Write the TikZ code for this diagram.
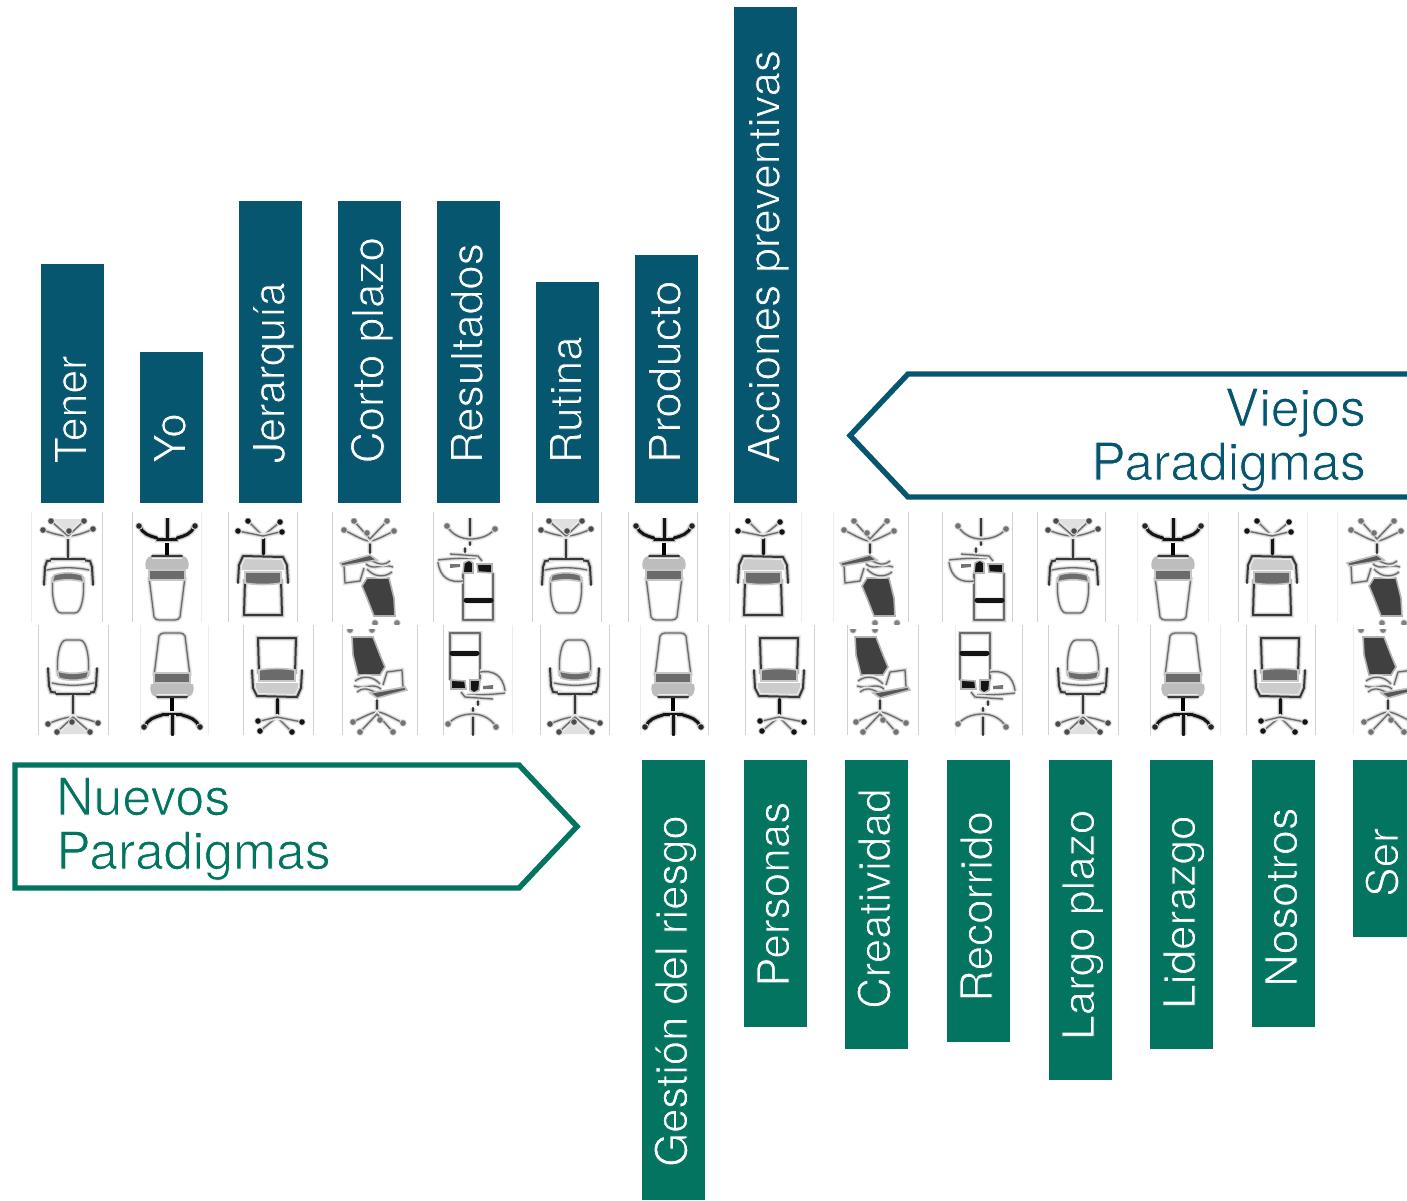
\documentclass[tikz,border=0pt]{standalone}
\usepackage{fontspec}
\setmainfont{TeX Gyre Heros}
\definecolor{blueb}{HTML}{05566E}
\definecolor{greenb}{HTML}{02745F}
% thins the glyphs: outlines them in the colour of what lies behind
\newcommand{\thinned}[2]{\special{pdf:code q 2 Tr 0.85 w #1 RG}#2\special{pdf:code Q}}
\newcommand{\onblue}[1]{\thinned{0.020 0.337 0.431}{#1}}
\newcommand{\ongreen}[1]{\thinned{0.008 0.455 0.373}{#1}}
\newcommand{\onwhite}[1]{\thinned{1 1 1}{#1}}
\tikzset{
  barblue/.style={fill=blueb,inner sep=0pt,minimum width=63pt,anchor=north west},
  bargreen/.style={fill=greenb,inner sep=0pt,minimum width=63pt,anchor=north west},
  bartext/.style={rotate=90,anchor=base west,inner sep=0pt,text=white,font=\fontsize{44.1}{50}\selectfont},
  headtext/.style={inner sep=0pt,font=\fontsize{51.8}{54}\selectfont},
  softt/.style={draw=black!58,line width=1.3pt,line cap=round,line join=round,preaction={draw=black!6,line width=5pt},preaction={draw=black!17,line width=3.2pt}},
  softm/.style={draw=black!78,line width=2pt,line cap=round,line join=round,preaction={draw=black!7,line width=6pt},preaction={draw=black!22,line width=4pt}},
  softk/.style={draw=black!92,line width=3pt,line cap=round,line join=round,preaction={draw=black!8,line width=7pt},preaction={draw=black!25,line width=5pt}},
  band/.style={fill=black!58,draw=black!22,line width=1.6pt},
  edgeline/.style={draw=black!18,line width=1pt},
  edgefaint/.style={draw=black!7,line width=1pt},
}
\newcommand{\wheels}[2]{\foreach \wx/\wy in {#2}{\fill[black!15] (\wx,\wy) circle (3.8);\fill[#1] (\wx,\wy) circle (2.8);}}
\newcommand{\ChairA}{%
  \draw[softt] (-15,676) .. controls (-17,660) and (-14,640) .. (-7,640) -- (7,640) .. controls (14,640) and (17,660) .. (15,676);
  \path[band] (-16,671) .. controls (-5,674) and (5,674) .. (16,671) -- (14,678) .. controls (6,681) and (-6,681) .. (-14,678) -- cycle;
  \draw[softm] (-25,668) -- (-24,686) -- (-22,692) -- (-13,693);
  \draw[softm] (24,668) -- (23,686) -- (21,692) -- (13,693);
  \draw[softt] (-21,683) .. controls (-8,686) and (8,686) .. (21,683);
  \draw[softm] (-17,694) -- (17,694);
  \draw[softm] (0,695) -- (0,717);
  \fill[black!12] (-14,726) -- (0,720) -- (14,726) -- (18,734) -- (-18,734) -- cycle;
  \draw[softt] (-25,724) .. controls (-12,718) and (-4,717) .. (0,717) .. controls (4,717) and (12,718) .. (25,723);
  \draw[softt] (-16,732) -- (0,717) -- (17,732);
  \wheels{black!70}{-25/724,25/723,-16/732,17/732,-1/722}
}
\newcommand{\ChairB}{%
  \draw[softt] (-18,676) -- (-13,636) .. controls (-12,634) and (-10,633) .. (-8,633) -- (8,633) .. controls (10,633) and (12,634) .. (13,636) -- (18,676);
  \path[band] (-18,673) -- (18,673) -- (18,683) -- (-18,683) -- cycle;
  \fill[black!26] (-21,684) .. controls (-23,692) and (-20,696) .. (-16,697) -- (16,697) .. controls (20,696) and (23,692) .. (21,684) -- cycle;
  \draw[softm] (-15,697) -- (15,697);
  \draw[draw=black,line width=4.5pt] (0,698) -- (0,714);
  \draw[softk] (-12,714) -- (12,714);
  \draw[softk] (-27,727) .. controls (-25,719) and (-17,717) .. (-10,715);
  \draw[softk] (27,727) .. controls (25,719) and (17,717) .. (10,715);
  \draw[softk] (0,715) -- (0,735);
  \wheels{black!85}{-28/727,28/727}
}
\newcommand{\ChairC}{%
  \draw[softm] (-18,674) -- (-19,638) -- (19,638) -- (18,674);
  \path[band] (-18,670) .. controls (-8,668) and (8,668) .. (18,670) -- (18,681) -- (-18,681) -- cycle;
  \fill[black!20] (-23,683) .. controls (-23,692) and (-20,697) .. (-16,697) -- (16,697) .. controls (20,697) and (23,692) .. (23,683) -- cycle;
  \draw[softm] (-25,670) -- (-24,688) -- (-20,696) -- (20,697) -- (24,688) -- (25,670);
  \draw[softk] (0,699) -- (0,717);
  \draw[softt] (-17,731) -- (0,717) -- (15,732);
  \draw[softt] (-21,722) -- (0,717) -- (25,722);
  \wheels{black!92}{-19/721,25/722,-17/731,15/732}
}
\newcommand{\ChairD}{%
  \wheels{black!50}{-25/630,-3/630}
  \fill[black!75,draw=black!30,line width=1.6pt] (-23,637) -- (-2,637) -- (5,655) -- (10,667) -- (5,675) -- (-17,675) -- (-22,655) -- cycle;
  \draw[softt] (8,685) -- (12,672) -- (27,670) -- (28,687);
  \draw[softt] (-20,681) .. controls (-12,675) and (-2,676) .. (5,684);
  \draw[softt] (-21,686) .. controls (-10,690) and (-2,682) .. (6,689);
  \draw[softt] (-18,692) .. controls (-8,684) and (-2,694) .. (8,694);
  \fill[black!66,draw=black!25,line width=1.6pt] (-5,693) -- (30,687) -- (32,690) -- (2,698) -- cycle;
  \draw[softm] (2,700) -- (2,712);
  \draw[softt] (-22,722) .. controls (-10,716) and (-2,712) .. (2,712) .. controls (8,712) and (18,718) .. (28,723);
  \draw[softt] (-15,732) -- (2,714) -- (18,732);
  \wheels{black!55}{-22/722,28/723,5/720,-15/732,18/732}
}
\newcommand{\ChairE}{%
  \draw[softt] (-23,680) -- (-23,633) -- (7,633) -- (7,680);
  \draw[softk,line width=5pt] (-21,653) -- (4,653);
  \fill[black!92,draw=black!30,line width=1.6pt] (-22,680) -- (-8,681) -- (-7,689) -- (-22,689) -- cycle;
  \fill[black!92,draw=black!30,line width=1.6pt] (-3,680) -- (7,680) -- (6,690) -- (1,693) -- (-3,690) -- cycle;
  \draw[softt] (7,672) .. controls (20,670) and (30,675) .. (32,691);
  \draw[softt] (-6,695) .. controls (10,695) and (25,694) .. (32,693);
  \draw[softt] (-12,692) -- (-8,697) -- (20,699);
  \fill[black!55] (10,686) -- (20,685) -- (20,689) -- (10,689) -- cycle;
  \draw[softm] (5,701) -- (5,705);
  \draw[softm,line width=2.6pt] (0,708) -- (0,735);
  \draw[softt] (-25,724) .. controls (-18,716) and (-8,714) .. (0,714) .. controls (8,714) and (18,718) .. (23,727);
  \wheels{black!55}{-25/724,23/727}
}
\newcommand{\TopBar}[4]{%
  \node[barblue,minimum height={(502.5-#3)*1pt}] (top#1) at (#2,#3) {};
  \node[bartext] (toplabel#1) at ({#2+45.5},463.5) {\onblue{#4}};
}
\newcommand{\LowBar}[5]{%
  \node[bargreen,minimum height={(#3-760)*1pt}] (low#1) at (#2,760) {};
  \node[bartext] (lowlabel#1) at ({#2+45},#4) {\ongreen{#5}};
}
\begin{document}
\begin{tikzpicture}[x=1pt,y=-1pt]
\useasboundingbox (0,0) rectangle (1407,1200);
% chair strip
\foreach \lx in {102,132,228,297,332,433,532,601,628,697,908,942,1012,1037,1105,1238}
  \draw[edgeline] (\lx,512) -- (\lx,622);
\foreach \lx in {31,201,729,801,833,1137,1208,1307,1337}
  \draw[edgefaint] (\lx,512) -- (\lx,622);
\foreach \lx in {38,108,243,313,342,417,443,540,609,708,745,814,847,918,1022,1048,1118,1150,1246,1315}
  \draw[edgeline] (\lx,625) -- (\lx,735);
\foreach \lx in {140,208,512,640,955,1220,1353}
  \draw[edgefaint] (\lx,625) -- (\lx,735);
\begin{scope}
  \clip (0,518) rectangle (1407,624);
  \foreach \cx/\kind in {68/A,167/B,263/C,372/D,470/E,566/A,664/B,763/C,872/D,981/E,1073/A,1173/B,1272/C,1379/D}{
    \begin{scope}[shift={(\cx,626.5)},rotate=180]
      \begin{scope}[shift={(0,-626.5)}]
        \csname Chair\kind\endcsname
      \end{scope}
    \end{scope}
  }
\end{scope}
\begin{scope}
  \clip (0,629) rectangle (1407,735);
  \foreach \cx/\kind in {73/A,172/B,277/C,375/D,473/E,575/A,673/B,779/C,878/D,983/E,1083/A,1183/B,1280/C,1386/D}{
    \begin{scope}[shift={(\cx,0)}]
      \csname Chair\kind\endcsname
    \end{scope}
  }
\end{scope}
% upper bars
\TopBar{1}{41}{264}{\scalebox{.97}[1]{Tener}}
\TopBar{2}{140}{352}{Yo}
\TopBar{3}{239}{201}{\scalebox{.973}[1]{Jerarquía}}
\TopBar{4}{338}{201}{Corto plazo}
\TopBar{5}{437}{201}{Resultados}
\TopBar{6}{536}{282}{Rutina}
\TopBar{7}{635}{255}{\scalebox{1.04}[1]{Producto}}
\TopBar{8}{734}{7}{Acciones preventivas}
% lower bars
\LowBar{1}{642}{1200}{1167}{\scalebox{.99}[1]{Gestión del riesgo}}
\LowBar{2}{744}{1027}{987}{Personas}
\LowBar{3}{845}{1049}{1009}{\scalebox{.99}[1]{Creatividad}}
\LowBar{4}{947}{1042}{1002}{Recorrido}
\LowBar{5}{1049}{1080}{1040}{Largo plazo}
\LowBar{6}{1150}{1049}{1009}{Liderazgo}
\LowBar{7}{1252}{1027}{987}{\scalebox{1.02}[1]{Nosotros}}
\LowBar{8}{1353}{937}{897}{Ser}
% head arrows
\draw[draw=blueb,line width=5.4pt,miter limit=10] (1412,374) -- (908,374) -- (850,435.5) -- (908,497) -- (1412,497);
\node[headtext,text=blueb,anchor=base east] (oldone) at (1366,426) {\onwhite{Viejos}};
\node[headtext,text=blueb,anchor=base east] (oldtwo) at (1366,480) {\onwhite{Paradigmas}};
\draw[draw=greenb,line width=5.4pt,miter limit=10] (15,765) -- (519,765) -- (577,826.5) -- (519,888) -- (15,888) -- cycle;
\node[headtext,text=greenb,anchor=base west] (newone) at (56,815) {\onwhite{Nuevos}};
\node[headtext,text=greenb,anchor=base west] (newtwo) at (56,869) {\onwhite{Paradigmas}};
\end{tikzpicture}
\end{document}
